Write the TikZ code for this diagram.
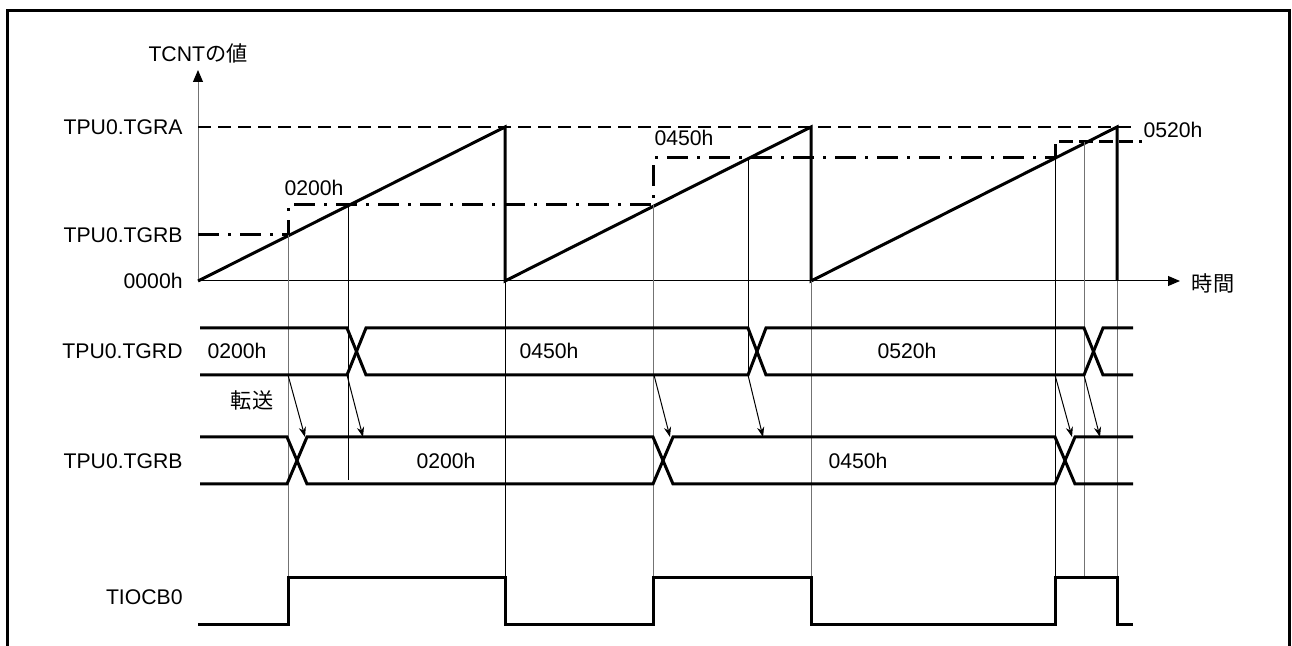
\documentclass[tikz,border=0pt]{standalone}
\usepackage{fontspec}
\setmainfont{Liberation Sans}
\newfontfamily\jpfont{Noto Sans CJK JP}
\usepackage{tikz}
\usetikzlibrary{arrows.meta}

\begin{document}
\begin{tikzpicture}[x=0.5pt,y=-0.5pt,
  lbl/.style={inner sep=0pt,font=\fontsize{10.6}{12}\selectfont},
  sig/.style={line width=1.5pt,line join=miter},
  guide/.style={line width=0.5pt,black},
  guidegray/.style={line width=0.5pt,black!55},
  xfer/.style={line width=0.5pt,-{Stealth[length=5pt,width=3.6pt]}},
  ramp/.style={line width=1.5pt},
  tgra/.style={line width=1pt,dash pattern=on 6.5pt off 3.5pt},
  tgrb/.style={line width=1.5pt,dash pattern=on 10.5pt off 4.5pt on 1.5pt off 4.5pt}]
\useasboundingbox (0,0) rectangle (1292,646);
% frame
\draw[line width=1.5pt] (7,646) -- (7,11) -- (1289,11) -- (1289,646);
% axes
\draw[line width=0.5pt,black!55,-{Triangle[length=6pt,width=5pt,color=black]}] (198,281) -- (198,70);
\draw[line width=0.5pt,-{Triangle[length=6pt,width=5pt]}] (198,281) -- (1180,281);
\node[lbl] (cnt) at (198,53) {TCNT\jpfont の値};
\node[lbl] (time) at (1213,283) {\jpfont 時間};
\node[lbl,anchor=east] (ya) at (183,127) {TPU0.TGRA};
\node[lbl,anchor=east] (yb) at (183,235) {TPU0.TGRB};
\node[lbl,anchor=east] (y0) at (183,281) {0000h};
% compare levels
\draw[tgra] (198,127) -- (1137,127);
\draw[tgrb] (198,235) -- (288,235) -- (288,205) -- (653,205) -- (653,158) -- (1055,158);
\draw[line width=1.5pt,dash pattern=on 7pt off 3pt] (1055,158) -- (1055,142) -- (1142,142);
\node[lbl] (v1) at (314,188) {0200h};
\node[lbl] (v2) at (684,138) {0450h};
\node[lbl] (v3) at (1173,130) {0520h};
% TCNT
\draw[ramp] (198,281) -- (505,127) -- (505,281) -- (811,127) -- (811,281) -- (1117,127) -- (1117,281);
% guide lines
\draw[guidegray] (288,235) -- (288,578);
\draw[guide] (348,205) -- (348,480);
\draw[guide] (505,281) -- (505,578);
\draw[guidegray] (653,205) -- (653,578);
\draw[guide] (748,158) -- (748,375);
\draw[guidegray] (811,281) -- (811,578);
\draw[guide] (1055,158) -- (1055,578);
\draw[guidegray] (1084,142) -- (1084,578);
\draw[guidegray] (1117,281) -- (1117,578);
% TPU0.TGRD
\node[lbl,anchor=east] (rd) at (183,351) {TPU0.TGRD};
\draw[sig] (200,328) -- (347,328) -- (366,375) -- (748,375) -- (766,328) -- (1084,328) -- (1103,375) -- (1133,375);
\draw[sig] (200,375) -- (347,375) -- (366,328) -- (748,328) -- (766,375) -- (1084,375) -- (1103,328) -- (1133,328);
\node[lbl] (d1) at (237,351) {0200h};
\node[lbl] (d2) at (549,351) {0450h};
\node[lbl] (d3) at (907,351) {0520h};
% TPU0.TGRB
\node[lbl,anchor=east] (rb) at (183,461) {TPU0.TGRB};
\draw[sig] (200,437) -- (287,437) -- (307,484) -- (653,484) -- (673,437) -- (1055,437) -- (1075,484) -- (1133,484);
\draw[sig] (200,484) -- (287,484) -- (307,437) -- (653,437) -- (673,484) -- (1055,484) -- (1075,437) -- (1133,437);
\node[lbl] (b1) at (446,461) {0200h};
\node[lbl] (b2) at (858,461) {0450h};
% transfer arrows
\node[lbl] (tr) at (252,400) {\jpfont 転送};
\coordinate (s1) at (288,375);  \coordinate (e1) at (305,437);
\coordinate (s2) at (347,375);  \coordinate (e2) at (363,437);
\coordinate (s3) at (654,375);  \coordinate (e3) at (670,437);
\coordinate (s4) at (748,375);  \coordinate (e4) at (763,437);
\coordinate (s5) at (1055,375); \coordinate (e5) at (1072,437);
\coordinate (s6) at (1084,375); \coordinate (e6) at (1100,437);
\draw[xfer] (s1) -- (e1);
\draw[xfer] (s2) -- (e2);
\draw[xfer] (s3) -- (e3);
\draw[xfer] (s4) -- (e4);
\draw[xfer] (s5) -- (e5);
\draw[xfer] (s6) -- (e6);
% TIOCB0
\node[lbl,anchor=east] (oc) at (183,597) {TIOCB0};
\draw[sig] (198,625) -- (288,625) -- (288,578) -- (505,578) -- (505,625) -- (653,625) -- (653,578) -- (811,578) -- (811,625) -- (1055,625) -- (1055,578) -- (1117,578) -- (1117,625) -- (1133,625);
\end{tikzpicture}
\end{document}
